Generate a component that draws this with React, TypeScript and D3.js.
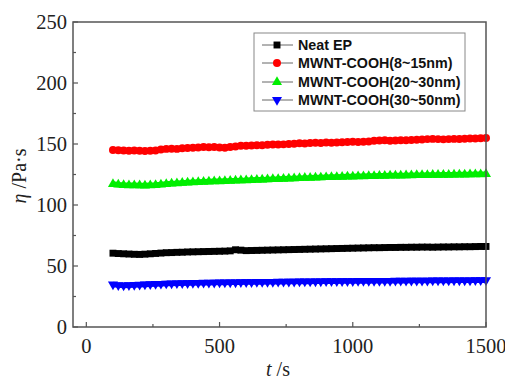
import React from "react";
import * as d3 from "d3";

const times = [
  100, 120, 140, 160, 180, 200, 220, 240, 260, 280,
  300, 320, 340, 360, 380, 400, 420, 440, 460, 480,
  500, 520, 540, 560, 580, 600, 620, 640, 660, 680,
  700, 720, 740, 760, 780, 800, 820, 840, 860, 880,
  900, 920, 940, 960, 980, 1000, 1020, 1040, 1060, 1080,
  1100, 1120, 1140, 1160, 1180, 1200, 1220, 1240, 1260, 1280,
  1300, 1320, 1340, 1360, 1380, 1400, 1420, 1440, 1460, 1480,
  1500,
];

const neatEP = [
  60.5, 60.2, 60.0, 59.8, 59.6, 59.5, 59.7, 60.0, 60.3, 60.6,
  60.9, 61.0, 61.2, 61.3, 61.5, 61.6, 61.7, 61.8, 61.9, 62.0,
  62.1, 62.2, 62.4, 63.3, 63.0, 62.6, 62.7, 62.8, 62.9, 63.0,
  63.1, 63.2, 63.3, 63.4, 63.5, 63.6, 63.7, 63.8, 63.9, 64.0,
  64.1, 64.2, 64.3, 64.4, 64.5, 64.6, 64.7, 64.8, 64.9, 65.0,
  65.0, 65.1, 65.2, 65.2, 65.3, 65.3, 65.4, 65.4, 65.5, 65.5,
  65.4, 65.5, 65.6, 65.6, 65.7, 65.7, 65.8, 65.8, 65.9, 66.0,
  66.0,
];

const mwnt8_15 = [
  145.0, 144.8, 144.6, 144.5, 144.7, 144.4, 144.3, 144.5, 144.6, 145.5,
  146.0, 146.2, 146.0, 146.5, 146.8, 147.0, 147.2, 147.5, 147.3, 147.6,
  147.2, 147.0, 147.5, 148.0, 148.5, 148.6, 148.8, 149.0, 148.9, 149.3,
  149.6, 149.5, 149.7, 150.0, 150.2, 150.6, 150.4, 150.8, 151.0, 150.8,
  151.2, 151.0, 151.3, 151.5, 151.6, 151.8, 151.6, 151.9, 152.0, 152.6,
  152.8, 153.0, 152.7, 152.9, 153.1, 153.0, 153.2, 153.5, 153.7, 154.0,
  154.2, 154.0, 153.8, 154.0, 154.2, 154.1, 154.3, 154.5, 154.6, 154.8,
  155.0,
];

const mwnt20_30 = [
  118.0, 117.5, 117.2, 117.0, 117.0, 116.9, 116.8, 117.0, 117.2, 117.6,
  118.0, 118.4, 118.6, 118.9, 119.2, 119.4, 119.6, 119.8, 120.0, 120.2,
  120.3, 120.5, 120.6, 120.8, 121.0, 121.1, 121.3, 121.5, 121.6, 121.8,
  122.0, 122.1, 122.3, 122.5, 122.6, 122.8, 123.0, 123.1, 123.3, 123.4,
  123.6, 123.7, 123.8, 124.0, 124.1, 124.2, 124.3, 124.4, 124.5, 124.6,
  124.7, 124.8, 124.9, 125.0, 125.0, 125.1, 125.2, 125.3, 125.3, 125.4,
  125.5, 125.5, 125.6, 125.6, 125.7, 125.8, 125.8, 125.9, 126.0, 126.0,
  126.1,
];

const mwnt30_50 = [
  34.0, 33.5, 33.3, 33.4, 33.6, 33.8, 34.0, 34.2, 34.4, 34.6,
  34.8, 34.9, 35.0, 35.1, 35.2, 35.3, 35.4, 35.5, 35.5, 35.6,
  35.7, 35.7, 35.8, 35.8, 35.9, 36.0, 36.0, 36.1, 36.1, 36.2,
  36.2, 36.3, 36.3, 36.4, 36.4, 36.5, 36.5, 36.5, 36.6, 36.6,
  36.7, 36.7, 36.7, 36.8, 36.8, 36.8, 36.9, 36.9, 36.9, 37.0,
  37.0, 37.0, 37.0, 37.1, 37.1, 37.1, 37.2, 37.2, 37.2, 37.2,
  37.3, 37.3, 37.3, 37.3, 37.4, 37.4, 37.4, 37.4, 37.5, 37.5,
  37.5,
];

const seriesNames = [
  "Neat EP",
  "MWNT-COOH(8~15nm)",
  "MWNT-COOH(20~30nm)",
  "MWNT-COOH(30~50nm)",
];
const seriesValues = [neatEP, mwnt8_15, mwnt20_30, mwnt30_50];
const seriesColors = ["#000000", "#ff0000", "#00ee00", "#0000ff"];
const seriesSymbols = [d3.symbolSquare, d3.symbolCircle, d3.symbolTriangle, d3.symbolTriangle];

const xTicks = [0, 500, 1000, 1500];
const xMinorTicks = [250, 750, 1250];
const yTicks = [0, 50, 100, 150, 200, 250];
const yMinorTicks = [25, 75, 125, 175, 225];

const W = 505;
const H = 379;
const left = 73;
const right = 486;
const top = 22;
const bottom = 327;

export default function App() {
  const x = d3.scaleLinear().domain([-50, 1500]).range([left, right]);
  const y = d3.scaleLinear().domain([0, 250]).range([bottom, top]);
  const line = d3.line<number>().x((_, i) => x(times[i])).y((v) => y(v));
  const axisColor = "#555";
  const serif = "'Liberation Serif', 'Times New Roman', serif";
  const sans = "'Liberation Sans', Arial, sans-serif";

  const markerPath = (k: number, size: number) => {
    const sym = d3.symbol().type(seriesSymbols[k]).size(size)();
    return sym || "";
  };
  const markerTransform = (k: number, cx: number, cy: number) =>
    k === 3 ? `translate(${cx},${cy}) rotate(180)` : `translate(${cx},${cy})`;
  const markerSizes = [48, 50, 44, 44];
  const offsets = [0, 0, 1, -1];

  const legendRows = [45, 63, 82, 100];

  return (
    <svg
      width={W}
      height={H}
      style={{ position: "absolute", left: 0, top: 0, background: "#fff" }}
    >
      <rect x={0} y={0} width={W} height={H} fill="#fff" />
      {/* series */}
      {seriesValues.map((vals, k) => (
        <g key={k}>
          <path
            d={line(vals) || ""}
            fill="none"
            stroke={seriesColors[k]}
            strokeWidth={5.5}
            transform={`translate(0,${offsets[k]})`}
          />
          {vals.map((v, i) => (
            <path
              key={i}
              d={markerPath(k, markerSizes[k])}
              transform={markerTransform(k, x(times[i]), y(v) + offsets[k])}
              fill={seriesColors[k]}
            />
          ))}
        </g>
      ))}
      {/* frame */}
      <rect
        x={left}
        y={top}
        width={right - left}
        height={bottom - top}
        fill="none"
        stroke={axisColor}
        strokeWidth={1.5}
      />
      {/* x ticks */}
      {xTicks.map((t) => (
        <g key={"xt" + t}>
          <line x1={x(t)} x2={x(t)} y1={bottom} y2={bottom - 5} stroke={axisColor} strokeWidth={1.2} />
          <text
            x={x(t)}
            y={353}
            textAnchor="middle"
            fontFamily={serif}
            fontSize={20.5}
            fill="#222"
          >
            {t}
          </text>
        </g>
      ))}
      {xMinorTicks.map((t) => (
        <line key={"xm" + t} x1={x(t)} x2={x(t)} y1={bottom} y2={bottom - 3} stroke={axisColor} strokeWidth={1.2} />
      ))}
      {/* y ticks */}
      {yTicks.map((t) => (
        <g key={"yt" + t}>
          <line x1={left} x2={left + 5} y1={y(t)} y2={y(t)} stroke={axisColor} strokeWidth={1.2} />
          <text
            x={67}
            y={y(t)}
            dy="0.35em"
            textAnchor="end"
            fontFamily={serif}
            fontSize={20.5}
            fill="#222"
          >
            {t}
          </text>
        </g>
      ))}
      {yMinorTicks.map((t) => (
        <line key={"ym" + t} x1={left} x2={left + 3} y1={y(t)} y2={y(t)} stroke={axisColor} strokeWidth={1.2} />
      ))}
      {/* axis labels */}
      <text
        x={278}
        y={376}
        textAnchor="middle"
        fontFamily={serif}
        fontSize={20}
        fill="#222"
      >
        <tspan fontStyle="italic">t</tspan>
        <tspan> /s</tspan>
      </text>
      <text
        transform={`translate(26,176) rotate(-90)`}
        textAnchor="middle"
        fontFamily={serif}
        fontSize={20}
        fill="#222"
      >
        <tspan fontStyle="italic">η</tspan>
        <tspan> /Pa·s</tspan>
      </text>
      {/* legend */}
      <rect x={254} y={33} width={211} height={78} fill="#fff" stroke="#888" strokeWidth={1} />
      {seriesNames.map((name, k) => (
        <g key={"lg" + k}>
          <line x1={262} x2={293} y1={legendRows[k]} y2={legendRows[k]} stroke="#666" strokeWidth={1} />
          <path
            d={markerPath(k, markerSizes[k])}
            transform={markerTransform(k, 277, legendRows[k])}
            fill={seriesColors[k]}
          />
          <text
            x={298}
            y={legendRows[k]}
            dy="0.36em"
            fontFamily={sans}
            fontWeight="bold"
            fontSize={14.3}
            fill="#111"
          >
            {name}
          </text>
        </g>
      ))}
    </svg>
  );
}
